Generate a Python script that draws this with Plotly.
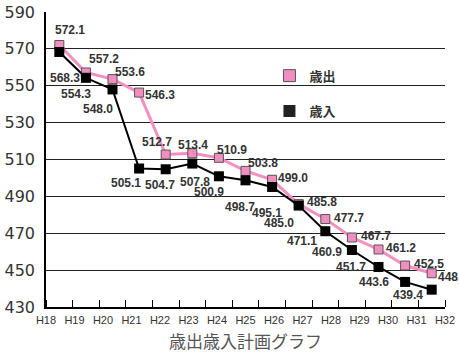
import plotly.graph_objects as go

# ---- data ----
years = ["H18", "H19", "H20", "H21", "H22", "H23", "H24", "H25",
         "H26", "H27", "H28", "H29", "H30", "H31", "H32"]
expenditure = [572.1, 557.2, 553.6, 546.3, 512.7, 513.4, 510.9, 503.8,
               499.0, 485.8, 477.7, 467.7, 461.2, 452.5, 448.3]   # 歳出
revenue = [568.3, 554.3, 548.0, 505.1, 504.7, 507.8, 500.9, 498.7,
           495.1, 485.0, 471.1, 460.9, 451.7, 443.6, 439.4]       # 歳入
series_names = ["歳出", "歳入"]
chart_title = "歳出歳入計画グラフ"

# ---- label offsets (pixels, screen space) ----
exp_dx = [11, 18, 17, 21, -9, 1, 13, 17, 21, 23, 24, 24, 22, 24, 21]
exp_dy = [-15, -13, -7, 2, -13, -8, -8, -8, -2, -2, -1, -1, -1, -2, 4]
rev_dx = [6, -10, -15, -13, -6, 3, -10, -6, -5, -20, -23, -25, -28, -31, -24]
rev_dy = [26, 16, 20, 14, 16, 18, 16, 27, 26, 17, 10, 2, 0, 0, 5]

PINK = "#f28dc2"
PINK_LINE = "#f48fc0"
TXT = "#333333"
NUM_FONT = "Liberation Sans, Arial, sans-serif"
JP_FONT = "Noto Sans CJK JP, sans-serif"

n = len(expenditure)
xs = [i + 0.5 for i in range(n)]

fig = go.Figure()
fig.add_trace(go.Scatter(
    x=xs, y=expenditure, mode="lines+markers", showlegend=False,
    line=dict(color=PINK_LINE, width=3),
    marker=dict(symbol="square", size=9, color=PINK,
                line=dict(color="#555555", width=1)),
    cliponaxis=False, hoverinfo="skip"))
fig.add_trace(go.Scatter(
    x=xs, y=revenue, mode="lines+markers", showlegend=False,
    line=dict(color="#000000", width=2),
    marker=dict(symbol="square", size=10, color="#000000"),
    cliponaxis=False, hoverinfo="skip"))

# legend entries
fig.add_trace(go.Scatter(
    x=[None], y=[None], mode="markers", name=series_names[0],
    marker=dict(symbol="square", size=12, color=PINK,
                line=dict(color="#555555", width=1)),
    legend="legend"))
fig.add_trace(go.Scatter(
    x=[None], y=[None], mode="markers", name=series_names[1],
    marker=dict(symbol="square", size=12, color="#222222"),
    legend="legend2"))

annotations = []
for i in range(n):
    annotations.append(dict(
        x=xs[i], y=expenditure[i], text=f"{expenditure[i]:.1f}",
        showarrow=False, xshift=exp_dx[i], yshift=-exp_dy[i],
        font=dict(family=NUM_FONT, size=12, color=TXT, weight="bold")))
    annotations.append(dict(
        x=xs[i], y=revenue[i], text=f"{revenue[i]:.1f}",
        showarrow=False, xshift=rev_dx[i], yshift=-rev_dy[i],
        font=dict(family=NUM_FONT, size=12, color=TXT, weight="bold")))
annotations.append(dict(
    x=0.5, y=-0.112, xref="paper", yref="paper", text=chart_title,
    showarrow=False, yanchor="middle",
    font=dict(family=JP_FONT, size=17, color="#555555")))

label_pos = [k * n / (len(years) - 1) for k in range(len(years))]

fig.update_layout(
    width=459, height=354,
    margin=dict(l=46, r=14, t=12, b=47, autoexpand=False),
    paper_bgcolor="white", plot_bgcolor="white",
    annotations=annotations,
    xaxis=dict(
        range=[0, n], tickvals=label_pos, ticktext=years,
        ticks="", showgrid=False, zeroline=False, automargin=False,
        showline=True, linecolor="#000000", linewidth=1.5,
        tickfont=dict(family=NUM_FONT, size=11, color=TXT),
        ticklabelstandoff=2,
        minor=dict(dtick=1, tick0=0, ticks="inside", ticklen=7,
                   tickcolor="#000000", tickwidth=1, showgrid=False)),
    yaxis=dict(
        range=[430, 590], dtick=20, tick0=430, automargin=False,
        showgrid=True, gridcolor="#222222", gridwidth=1,
        zeroline=False, showline=True, linecolor="#000000", linewidth=1.5,
        ticks="", ticklabelstandoff=6,
        tickfont=dict(family="DejaVu Sans, sans-serif", size=16, color=TXT)),
    legend=dict(x=0.56, y=0.835, xanchor="left", yanchor="top",
                bgcolor="rgba(0,0,0,0)",
                font=dict(family=JP_FONT, size=13, color=TXT, weight="bold")),
    legend2=dict(x=0.56, y=0.715, xanchor="left", yanchor="top",
                 bgcolor="rgba(0,0,0,0)",
                 font=dict(family=JP_FONT, size=13, color=TXT, weight="bold")),
)

fig.write_html("out.html")
